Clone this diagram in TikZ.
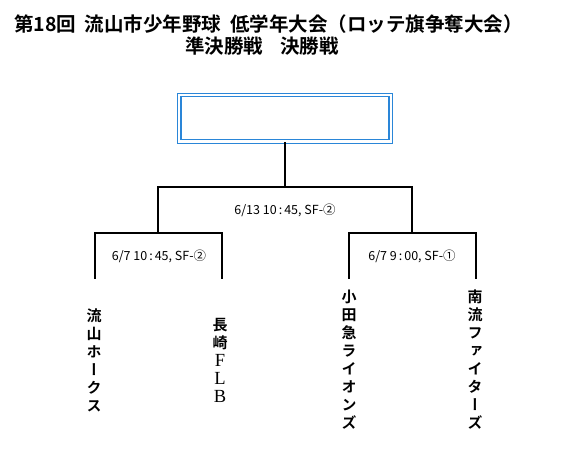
\documentclass[tikz,border=0pt]{standalone}
\usepackage{fontspec}
\newfontfamily\jp{Noto Sans CJK JP}[BoldFont={Noto Sans CJK JP Bold}]
\newfontfamily\jpv{Noto Sans CJK JP}[RawFeature=+vert,BoldFont={Noto Sans CJK JP Bold}]
\newfontfamily\lser{Liberation Serif}
\definecolor{boxblue}{HTML}{2A86D8}
\newcommand{\fw}[1]{{\lser\mdseries\fontsize{18.5}{18}\selectfont #1}}
\begin{document}
\begin{tikzpicture}[x=1pt,y=-1pt,
  ttl/.style={font=\jp\bfseries\fontsize{19.5}{22}\selectfont, inner sep=0pt},
  lbl/.style={font=\jp\fontsize{12.5}{14}\selectfont, inner sep=0pt},
  team/.style={font=\jpv\bfseries\fontsize{15}{18}\selectfont, inner sep=0pt, align=center},
  br/.style={line width=2pt, line cap=rect},
]
\useasboundingbox (0,0) rectangle (568,453);
\fill[white] (0,0) rectangle (568,453);
% title
\node[ttl, anchor=west] (title1) at (14,24) {第18回\hspace{0.45em}流山市少年野球\hspace{0.45em}低学年大会（ロッテ旗争奪大会）};
\node[ttl] (title2) at (262,46.5) {準決勝戦\hspace{0.85em}決勝戦};
% winner box
\node[draw=boxblue, line width=0.9pt, minimum width=215pt, minimum height=50pt, inner sep=0pt] (champ) at (285,118) {};
\node[draw=boxblue, line width=1.6pt, minimum width=208pt, minimum height=43pt, inner sep=0pt] (champin) at (285,118) {};
% bracket coordinates
\coordinate (fm) at (285,187);
\coordinate (fl) at (158,187);
\coordinate (fr) at (412,187);
\coordinate (sl) at (158,233);
\coordinate (sr) at (412,233);
\coordinate (sl1) at (95,233);
\coordinate (sl2) at (222,233);
\coordinate (sr1) at (349,233);
\coordinate (sr2) at (476,233);
\coordinate (e1) at (95,278);
\coordinate (e2) at (222,278);
\coordinate (e3) at (349,278);
\coordinate (e4) at (476,278);
\draw[br] (champ.south) -- (fm);
\draw[br] (fl) -- (fr);
\draw[br] (fl) -- (sl);
\draw[br] (fr) -- (sr);
\draw[br] (sl1) -- (sl2);
\draw[br] (sr1) -- (sr2);
\draw[br] (sl1) -- (e1);
\draw[br] (sl2) -- (e2);
\draw[br] (sr1) -- (e3);
\draw[br] (sr2) -- (e4);
% labels
\node[lbl] (lf) at (285,210) {6/13 10\kern2pt:\kern2pt45, SF-②};
\node[lbl] (ll) at (159,256) {6/7 10\kern2pt:\kern2pt45, SF-②};
\node[lbl] (lr) at (412,256) {6/7 9\kern2pt:\kern2pt00, SF-①};
% teams
\node[team] (t1) at (94,360) {流\\山\\ホ\\ー\\ク\\ス};
\node[team] (t2) at (220,360) {長\\崎\\\fw{F}\\\fw{L}\\\fw{B}};
\node[team] (t3) at (349,360) {小\\田\\急\\ラ\\イ\\オ\\ン\\ズ};
\node[team] (t4) at (475,360) {南\\流\\フ\\ァ\\イ\\タ\\ー\\ズ};
\end{tikzpicture}
\end{document}
